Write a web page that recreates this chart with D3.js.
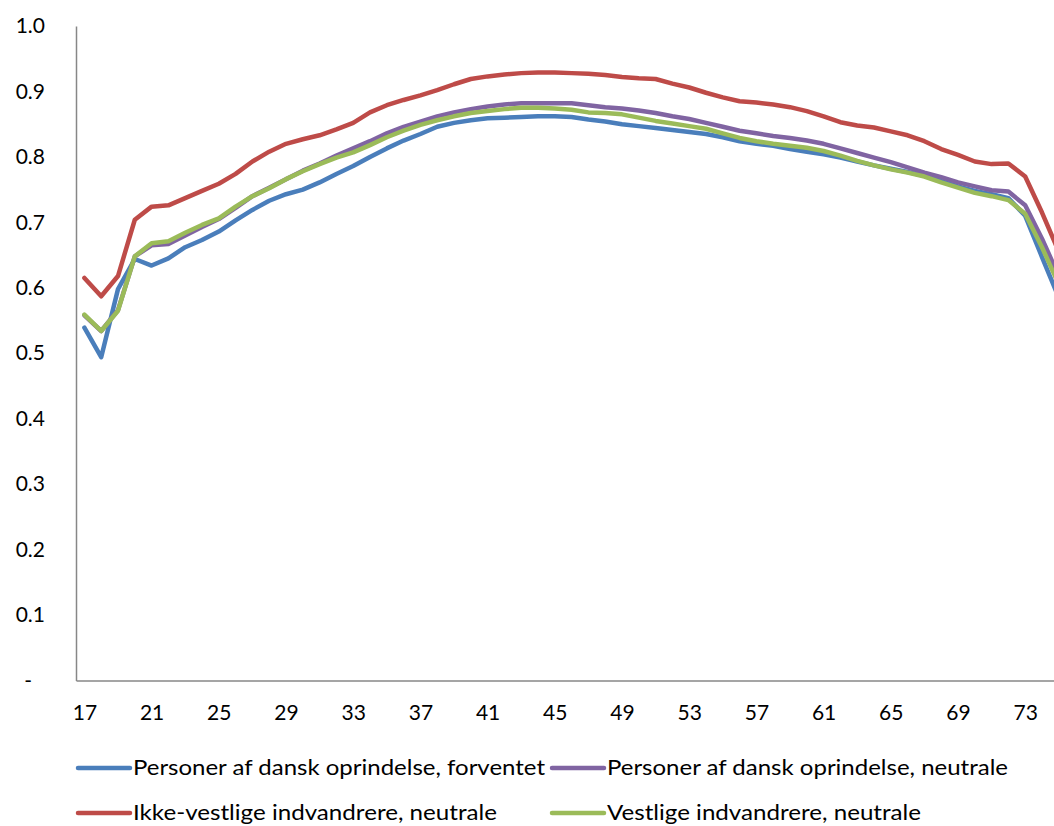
<!DOCTYPE html>
<html>
<head>
<meta charset="utf-8">
<script src="https://cdn.jsdelivr.net/npm/d3@7/dist/d3.min.js"></script>
<style>
	body { margin: 0; background: #fff; }
	svg { display: block; font-family: Lato, "Open Sans", sans-serif; }
</style>
</head>
<body>
<svg id="chart" width="1054" height="826"></svg>
<script>

const ages = d3.range(17, 76);
const xTickLabels = [17, 21, 25, 29, 33, 37, 41, 45, 49, 53, 57, 61, 65, 69, 73];
const yTickValues = [0, 0.1, 0.2, 0.3, 0.4, 0.5, 0.6, 0.7, 0.8, 0.9, 1.0];

const seriesNames = [
	'Personer af dansk oprindelse, forventet',
	'Personer af dansk oprindelse, neutrale',
	'Ikke-vestlige indvandrere, neutrale',
	'Vestlige indvandrere, neutrale'
];
const seriesColors = ['#4A7EBB', '#8064A2', '#BE4B48', '#9BBB59'];

const danskForventet = [
	0.539, 0.494, 0.598, 0.644, 0.634, 0.645, 0.662, 0.673, 0.686, 0.703,
	0.719, 0.733, 0.743, 0.750, 0.761, 0.774, 0.786, 0.800, 0.813, 0.825,
	0.835, 0.846, 0.852, 0.856, 0.859, 0.860, 0.861, 0.862, 0.862, 0.861,
	0.857, 0.854, 0.850, 0.847, 0.844, 0.841, 0.838, 0.835, 0.830, 0.824,
	0.820, 0.817, 0.812, 0.808, 0.804, 0.799, 0.793, 0.787, 0.782, 0.777,
	0.771, 0.763, 0.755, 0.748, 0.743, 0.737, 0.710, 0.647, 0.585
];
const danskNeutrale = [
	0.558, 0.534, 0.566, 0.648, 0.665, 0.667, 0.680, 0.693, 0.705, 0.722,
	0.740, 0.753, 0.766, 0.779, 0.790, 0.802, 0.813, 0.824, 0.836, 0.846,
	0.854, 0.862, 0.868, 0.873, 0.877, 0.880, 0.882, 0.882, 0.882, 0.882,
	0.879, 0.876, 0.874, 0.871, 0.867, 0.862, 0.858, 0.852, 0.846, 0.840,
	0.836, 0.832, 0.829, 0.825, 0.820, 0.813, 0.806, 0.799, 0.792, 0.784,
	0.776, 0.769, 0.761, 0.755, 0.749, 0.747, 0.726, 0.675, 0.618
];
const ikkeVestlige = [
	0.615, 0.587, 0.618, 0.704, 0.724, 0.726, 0.737, 0.748, 0.759, 0.774,
	0.793, 0.808, 0.820, 0.827, 0.833, 0.842, 0.852, 0.868, 0.879, 0.887,
	0.894, 0.902, 0.911, 0.919, 0.923, 0.926, 0.928, 0.929, 0.929, 0.928,
	0.927, 0.925, 0.922, 0.920, 0.919, 0.912, 0.906, 0.898, 0.891, 0.885,
	0.883, 0.880, 0.876, 0.870, 0.862, 0.853, 0.848, 0.845, 0.839, 0.833,
	0.824, 0.812, 0.803, 0.793, 0.789, 0.790, 0.770, 0.715, 0.655
];
const vestlige = [
	0.559, 0.534, 0.565, 0.648, 0.668, 0.671, 0.684, 0.696, 0.706, 0.724,
	0.740, 0.752, 0.766, 0.778, 0.789, 0.799, 0.807, 0.818, 0.830, 0.840,
	0.849, 0.856, 0.862, 0.867, 0.870, 0.873, 0.875, 0.875, 0.874, 0.872,
	0.868, 0.867, 0.865, 0.860, 0.855, 0.851, 0.847, 0.843, 0.836, 0.829,
	0.824, 0.820, 0.817, 0.814, 0.809, 0.802, 0.794, 0.787, 0.781, 0.776,
	0.770, 0.761, 0.753, 0.745, 0.740, 0.734, 0.713, 0.662, 0.605
];

const seriesValues = [danskForventet, danskNeutrale, ikkeVestlige, vestlige];

// plot area (the right side of the original is cut off)
const plotLeft = 76, plotTop = 26, plotBottom = 680.5, step = 16.8;

const svg = d3.select('#chart');

const x = d3.scalePoint()
	.domain(ages)
	.range([plotLeft, plotLeft + ages.length * step])
	.padding(0.5);

const y = d3.scaleLinear()
	.domain([0, 1])
	.range([plotBottom, plotTop]);

// y axis
const yAxis = svg.append('g')
	.attr('transform', `translate(${plotLeft},0)`)
	.call(d3.axisLeft(y)
		.tickValues(yTickValues)
		.tickSize(0)
		.tickPadding(31)
		.tickFormat(d => d === 0 ? '-' : d3.format('.1f')(d)));
yAxis.select('.domain').attr('stroke', '#878787').attr('stroke-width', 1.5);
yAxis.selectAll('text')
	.attr('font-size', 21)
	.attr('fill', '#000')
	.attr('font-family', 'Lato, sans-serif');
yAxis.selectAll('.tick')
	.filter(d => d === 0)
	.select('text')
	.attr('dx', -13);

// x axis
const xAxis = svg.append('g')
	.attr('transform', `translate(0,${plotBottom})`)
	.call(d3.axisBottom(x)
		.tickValues(xTickLabels)
		.tickSize(0)
		.tickPadding(25));
xAxis.select('.domain').attr('stroke', '#878787').attr('stroke-width', 1.5);
xAxis.selectAll('text')
	.attr('font-size', 21)
	.attr('fill', '#000')
	.attr('font-family', 'Lato, sans-serif');

// lines
const line = d3.line()
	.x((d, i) => x(ages[i]))
	.y(d => y(d));

svg.append('g')
	.selectAll('path')
	.data(seriesValues)
	.join('path')
	.attr('d', line)
	.attr('fill', 'none')
	.attr('stroke', (d, i) => seriesColors[i])
	.attr('stroke-width', 4.5)
	.attr('stroke-linejoin', 'round')
	.attr('stroke-linecap', 'round');

// legend, two rows of two
const legendPos = [[78, 768], [552, 768], [78, 813], [552, 813]];
const legendWidths = [412, 401, 364, 314];

const legend = svg.append('g')
	.selectAll('g')
	.data(seriesNames)
	.join('g')
	.attr('transform', (d, i) => `translate(${legendPos[i][0]},${legendPos[i][1]})`);

legend.append('line')
	.attr('x1', 0)
	.attr('x2', 52)
	.attr('stroke', (d, i) => seriesColors[i])
	.attr('stroke-width', 4.5)
	.attr('stroke-linecap', 'round');

legend.append('text')
	.attr('x', 55)
	.attr('y', 7)
	.attr('font-size', 21)
	.attr('textLength', (d, i) => legendWidths[i])
	.attr('lengthAdjust', 'spacingAndGlyphs')
	.text(d => d);

</script>
</body>
</html>
